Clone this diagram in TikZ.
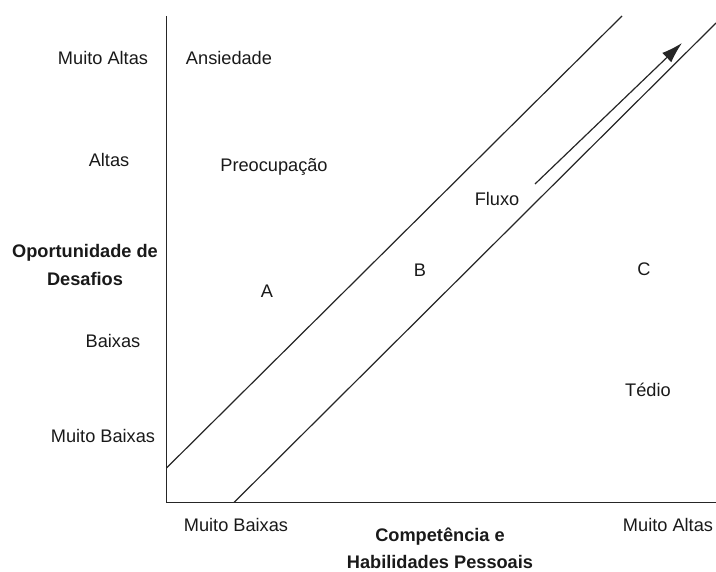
\documentclass[tikz,border=0pt]{standalone}
\usepackage{fontspec}
\setmainfont{Liberation Sans}
\usetikzlibrary{arrows.meta}
\tikzset{
    axisline/.style = {line width=1.5pt,draw=black!85},
    zoneline/.style = {line width=1.2pt,draw=black!85},
    flowarrow/.style = {line width=1.2pt,draw=black!85,-{Latex[length=21pt,width=13pt]}},
    lbl/.style = {anchor=base,inner sep=0pt,font=\fontsize{18.2}{21}\selectfont,text=black!90},
    lblb/.style = {lbl,font=\fontsize{18.2}{21}\selectfont\bfseries},
    every picture/.style={x=1pt,y=-1pt}
}
\begin{document}
\begin{tikzpicture}
\useasboundingbox (0,0) rectangle (716,572);
%
\coordinate (top) at (166.5,16);
\coordinate (origin) at (166.5,502.5);
\coordinate (right) at (716,502.5);
\coordinate (ua) at (166.5,468);
\coordinate (ub) at (622,16);
\coordinate (la) at (234,502.5);
\coordinate (lb) at (716,23);
\coordinate (fa) at (535,184);
\coordinate (fb) at (682,43);
%
\draw[axisline] (top) -- (origin) -- (right);
\draw[zoneline] (ua) -- (ub);
\draw[zoneline] (la) -- (lb);
\draw[flowarrow] (fa) -- (fb);
%
\node[lbl] (ymaxalta) at (103,65) {Muito Altas};
\node[lbl] (yalta) at (109,167) {Altas};
\node[lblb] (ytitle1) at (85,258) {Oportunidade de};
\node[lblb] (ytitle2) at (85,286) {Desafios};
\node[lbl] (ybaixa) at (113,348) {Baixas};
\node[lbl] (yminbaixa) at (103,443) {Muito Baixas};
%
\node[lbl] (ansiedade) at (229,65) {Ansiedade};
\node[lbl] (preocupacao) at (274,172) {Preocupação};
\node[lbl] (zonea) at (267,298) {A};
\node[lbl] (zoneb) at (420,277) {B};
\node[lbl] (fluxo) at (497,206) {Fluxo};
\node[lbl] (zonec) at (644,276) {C};
\node[lbl] (tedio) at (648,397) {Tédio};
%
\node[lbl] (xminbaixa) at (236,531) {Muito Baixas};
\node[lblb] (xtitle1) at (440,541) {Competência e};
\node[lblb] (xtitle2) at (440,568) {Habilidades Pessoais};
\node[lbl] (xmaxalta) at (668,531) {Muito Altas};

\end{tikzpicture}
\end{document}
